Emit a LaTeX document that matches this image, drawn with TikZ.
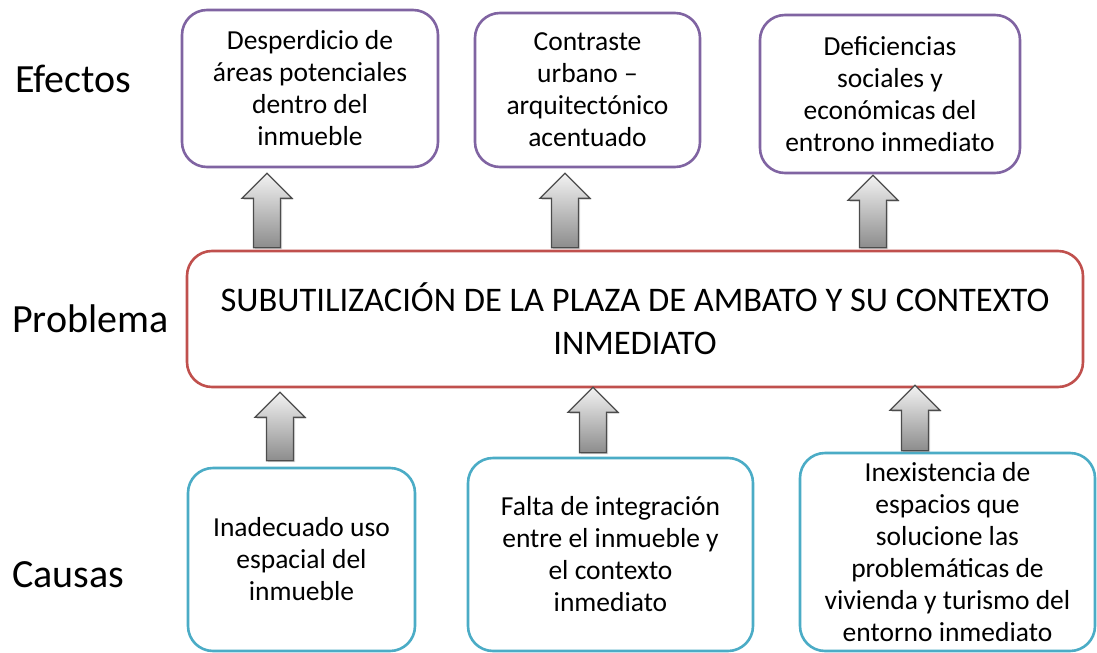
\documentclass[tikz,border=0pt]{standalone}
\usepackage{fontspec}
\setmainfont{Carlito}
\usepackage{tikz}
\usetikzlibrary{calc,shadows}

\definecolor{effline}{HTML}{8064A2}
\definecolor{probline}{HTML}{C0504D}
\definecolor{causeline}{HTML}{4BACC6}

\newcommand{\uparr}[2]{%
	\draw [blockarrow] let \p1=(#1), \p2=(#2) in
		(\x1-13.5bp,\y1) -- (\x1+13.5bp,\y1) -- (\x1+13.5bp,\y2-25bp)
		-- (\x1+25bp,\y2-25bp) -- (\x1,\y2) -- (\x1-25bp,\y2-25bp)
		-- (\x1-13.5bp,\y2-25bp) -- cycle;}

\begin{document}
\begin{tikzpicture}[
	box/.style={rounded corners=25bp, line width=2.6bp, fill=white, align=center,
		inner sep=0bp, font=\fontsize{27.5bp}{32bp}\selectfont},
	effbox/.style={box, draw=effline},
	probbox/.style={box, draw=probline, font=\fontsize{34.5bp}{43bp}\selectfont},
	causebox/.style={box, draw=causeline},
	sidelabel/.style={anchor=base west, inner sep=0bp, font=\fontsize{40bp}{48bp}\selectfont},
	blockarrow/.style={draw=black!70, line width=1.2bp, top color=black!5, bottom color=black!45,
		drop shadow={shadow xshift=1.5bp, shadow yshift=-1.5bp, opacity=0.3}}]
	\useasboundingbox (0bp,0bp) rectangle (1097bp,-653bp);

	\node (lefe) at (15bp,-92bp)  [sidelabel] {Efectos};
	\node (lpro) at (12bp,-332bp) [sidelabel] {Problema};
	\node (lcau) at (12bp,-587bp) [sidelabel] {Causas};

	\node (eff1) at (310bp,-88.5bp) [effbox, minimum width=256bp, minimum height=157bp]
		{Desperdicio de\\áreas potenciales\\dentro del\\inmueble};
	\node (eff2) at (587.5bp,-90bp) [effbox, minimum width=225bp, minimum height=154bp]
		{Contraste\\urbano –\\arquitectónico\\acentuado};
	\node (eff3) at (890bp,-94bp)   [effbox, minimum width=260bp, minimum height=158bp]
		{Deficiencias\\sociales y\\económicas del\\entrono inmediato};

	\node (prob) at (635bp,-319bp) [probbox, minimum width=896bp, minimum height=136bp]
		{SUBUTILIZACIÓN DE LA PLAZA DE AMBATO Y SU CONTEXTO\\INMEDIATO};

	\node (cau1) at (301.5bp,-559.5bp) [causebox, minimum width=227bp, minimum height=183bp]
		{Inadecuado uso\\espacial del\\inmueble};
	\node (cau2) at (610.5bp,-554.5bp) [causebox, minimum width=285bp, minimum height=193bp]
		{Falta de integración\\entre el inmueble y\\el contexto\\inmediato};
	\node (cau3) at (947.5bp,-552bp)   [causebox, minimum width=295bp, minimum height=198bp]
		{Inexistencia de\\espacios que\\solucione las\\problemáticas de\\vivienda y turismo del\\entorno inmediato};

	\coordinate (ax1) at (267bp,0bp);
	\coordinate (ax2) at (565bp,0bp);
	\coordinate (ax3) at (873bp,0bp);
	\coordinate (bx1) at (280bp,0bp);
	\coordinate (bx2) at (593bp,0bp);
	\coordinate (bx3) at (915bp,0bp);

	\uparr{$(prob.north -| ax1)+(0bp,2bp)$}{$(eff1.south -| ax1)+(0bp,-5bp)$}
	\uparr{$(prob.north -| ax2)+(0bp,2bp)$}{$(eff2.south -| ax2)+(0bp,-5bp)$}
	\uparr{$(prob.north -| ax3)+(0bp,2bp)$}{$(eff3.south -| ax3)+(0bp,-1bp)$}
	\uparr{$(cau1.north -| bx1)+(0bp,6bp)$}{$(prob.south -| bx1)+(0bp,-4bp)$}
	\uparr{$(cau2.north -| bx2)+(0bp,4bp)$}{$(prob.south -| bx2)+(0bp,1bp)$}
	\uparr{$(cau3.north -| bx3)+(0bp,1bp)$}{$(prob.south -| bx3)+(0bp,3bp)$}
\end{tikzpicture}
\end{document}
